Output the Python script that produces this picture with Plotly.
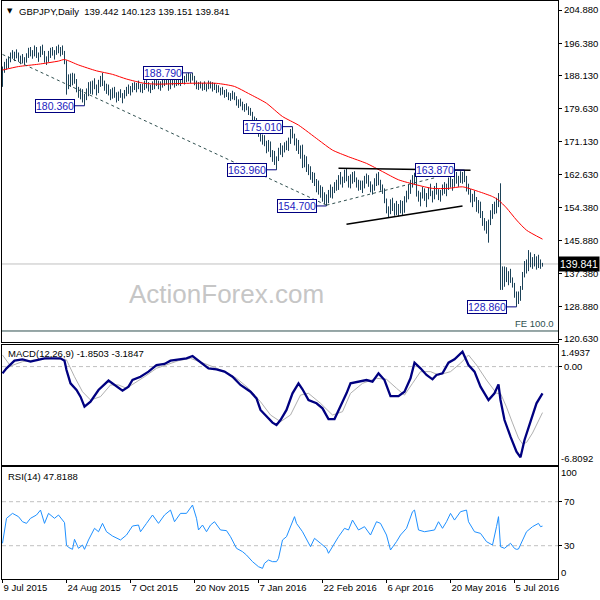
import plotly.graph_objects as go

# ---------------- DATA ----------------
bar_open = [
186.0,189.6,191.0,190.2,192.6,193.4,193.0,193.8,193.2,192.2,
192.6,191.8,192.4,193.4,194.6,193.6,194.2,195.0,193.2,193.6,
195.2,194.0,192.0,192.6,193.8,194.4,193.8,194.2,195.0,194.4,
195.0,194.0,191.6,185.6,187.4,186.0,188.2,186.6,184.4,183.0,
184.2,181.8,182.8,184.2,185.8,184.0,186.2,185.0,184.2,186.4,
187.0,186.0,184.8,185.4,183.6,182.4,184.4,183.0,181.8,183.4,
182.8,183.2,183.8,184.6,184.0,185.0,185.6,184.8,185.8,185.2,
184.6,185.6,186.2,185.4,184.6,185.4,186.0,186.8,186.2,185.2,
186.2,186.8,187.8,186.4,185.0,187.6,186.2,186.4,187.0,186.0,
187.4,187.0,187.6,188.0,187.2,188.2,187.4,186.0,185.2,185.8,
185.0,185.6,184.8,185.4,186.0,185.0,185.6,184.8,185.2,184.2,
184.4,183.6,183.8,183.0,182.4,183.0,182.6,182.2,180.8,181.4,
180.6,179.8,180.2,179.4,178.6,178.4,176.8,177.0,174.4,173.0,
172.0,172.6,170.6,169.4,171.0,168.0,168.6,166.2,166.8,169.2,
168.4,169.6,170.4,169.8,171.8,173.8,172.6,170.8,171.4,168.6,
169.8,165.0,167.2,164.0,164.8,162.0,162.8,160.4,161.0,158.4,
159.4,156.4,157.6,155.6,158.2,157.4,159.2,160.2,159.2,162.0,
161.2,161.8,163.4,161.6,160.2,162.2,162.8,161.2,160.0,160.8,
159.4,160.6,161.8,162.0,160.2,158.8,159.6,161.2,162.4,160.6,
159.2,158.4,155.8,153.4,154.0,155.8,154.0,154.8,153.2,154.6,
155.6,153.0,156.8,157.8,159.6,160.8,161.8,162.8,157.6,156.4,
157.6,158.8,156.6,157.4,158.6,157.8,157.2,159.2,158.2,156.8,
158.4,159.6,158.4,160.0,161.2,160.0,161.0,162.6,161.0,162.0,
163.0,161.2,162.0,159.0,158.2,156.2,157.2,156.4,153.8,155.4,
152.4,150.2,149.2,148.4,150.6,152.8,154.6,153.6,156.2,157.6,
139.0,135.2,137.6,136.2,136.8,135.4,134.6,131.8,131.6,132.2,
133.6,137.2,139.8,138.4,142.6,140.2,141.2,139.8,141.4,139.4,
139.442]

bar_high = [
190.4,191.6,192.4,193.0,194.0,194.6,194.2,194.8,194.0,193.2,
193.6,192.8,193.8,195.2,195.4,194.6,195.8,195.4,194.0,195.6,
196.0,194.4,193.0,194.4,195.2,195.4,194.6,195.6,196.0,195.4,
195.8,194.4,192.0,188.4,188.6,188.8,188.6,187.2,185.2,184.8,
184.6,183.4,184.8,186.4,186.6,186.8,187.4,185.8,187.0,188.0,
188.8,186.8,186.0,185.8,184.6,185.0,185.2,183.8,184.0,184.6,
183.6,184.4,185.2,185.8,185.4,186.2,186.4,186.2,186.8,186.0,
186.0,186.8,187.0,186.4,185.8,186.6,187.2,187.6,186.8,186.6,
187.4,188.2,188.0,187.0,188.2,188.4,187.2,187.6,187.4,187.8,
188.4,188.0,188.6,188.8,188.6,188.79,188.0,186.8,186.4,186.6,
186.2,186.6,186.0,186.8,186.6,186.4,186.2,185.8,185.6,185.0,
185.2,184.4,184.6,183.8,183.6,184.2,183.8,182.8,182.0,182.2,
181.4,180.8,181.0,180.2,179.8,178.8,177.6,177.2,175.0,173.8,
173.0,172.8,171.4,171.6,171.2,169.0,168.8,167.4,169.6,170.8,
170.2,171.0,171.4,172.2,174.4,175.01,173.2,172.0,171.6,170.2,
170.4,167.8,167.4,165.4,164.8,163.4,163.2,161.6,161.2,160.0,
159.6,158.2,157.6,158.8,160.2,159.6,160.8,161.4,162.6,163.4,
162.2,164.0,164.4,162.4,162.8,163.4,163.6,162.0,161.4,161.2,
161.2,162.4,163.0,162.6,161.0,160.2,161.8,163.0,163.4,161.4,
160.2,159.2,156.6,154.6,156.4,156.8,155.4,156.0,155.2,156.2,
156.0,157.2,158.6,160.2,161.4,162.6,163.2,163.9,158.6,158.2,
159.6,159.2,158.0,159.4,160.4,158.6,159.8,160.6,159.0,158.8,
160.2,160.8,160.4,162.0,162.8,161.6,163.2,163.4,162.4,163.6,
163.4,163.87,162.4,160.4,159.0,157.8,158.6,157.0,156.2,155.8,
153.4,151.6,150.8,151.2,153.6,155.2,155.8,156.8,158.0,160.5,
139.2,139.2,139.0,138.0,138.6,136.4,135.0,132.8,132.8,134.2,
137.8,140.6,141.0,143.4,142.8,141.6,142.4,141.8,142.2,141.0,
140.123]

bar_low = [
185.2,188.8,189.6,190.0,191.5,192.4,191.8,192.5,191.6,191.0,
191.2,190.8,191.4,192.6,193.0,192.4,193.0,192.6,191.6,192.8,
193.4,191.4,190.8,191.6,192.6,193.2,192.2,193.4,193.8,193.0,
193.4,191.0,183.2,184.6,185.2,185.6,186.0,183.8,182.4,182.0,
181.2,180.36,181.8,182.8,183.4,183.2,184.6,183.0,183.6,185.2,
185.4,184.2,183.4,183.0,181.8,182.2,182.4,181.2,181.6,182.4,
181.0,182.2,182.8,183.4,183.0,183.8,184.4,183.8,184.6,183.8,
183.6,184.4,184.8,184.0,183.6,184.4,184.6,185.4,184.6,184.2,
185.0,185.4,185.8,184.2,184.6,185.6,185.0,185.4,185.6,185.4,
186.2,185.8,186.4,186.6,186.2,186.8,185.6,184.6,184.4,184.8,
184.2,184.4,184.0,184.6,184.8,184.0,184.4,183.6,183.8,183.0,
183.2,182.4,182.6,181.8,181.6,182.0,181.8,180.4,179.8,180.2,
179.2,178.8,179.2,178.0,177.8,176.2,175.2,173.8,172.4,171.2,
170.4,170.0,168.2,168.6,167.2,166.0,165.2,163.96,166.2,167.8,
167.2,168.4,169.0,168.8,170.6,172.0,170.2,168.8,168.0,166.8,
164.4,164.6,163.4,162.6,161.4,160.6,159.8,158.2,157.6,156.8,
155.8,155.2,154.7,155.4,156.8,156.6,158.0,158.6,158.8,160.2,
159.4,160.6,161.0,159.4,159.2,160.4,160.8,159.4,158.6,158.8,
158.0,159.2,160.4,159.6,158.2,157.6,158.6,159.8,160.0,158.6,
157.8,155.4,152.8,151.6,152.6,153.4,152.2,152.4,152.0,152.8,
152.4,153.0,155.6,156.4,157.8,159.4,160.2,157.1,155.8,154.6,
156.6,156.0,154.4,156.4,157.2,155.6,156.4,157.6,156.2,155.8,
157.4,157.8,157.2,158.8,159.4,158.6,159.6,160.4,159.6,160.6,
160.4,160.8,158.4,157.6,155.6,154.4,155.8,153.2,152.8,151.6,
149.6,148.4,147.6,145.3,149.8,151.4,152.6,152.8,154.4,133.2,
133.2,134.0,135.2,134.4,135.0,133.8,131.2,128.86,129.6,130.4,
133.2,136.4,137.4,138.0,139.0,138.6,139.2,138.4,138.8,138.6,
139.151]

bar_close = [
189.6,191.0,190.2,192.6,193.4,193.0,193.8,193.2,192.2,192.6,
191.8,192.4,193.4,194.6,193.6,194.2,195.0,193.2,193.6,195.2,
194.0,192.0,192.6,193.8,194.4,193.8,194.2,195.0,194.4,195.0,
194.0,191.6,185.6,187.4,186.0,188.2,186.6,184.4,183.0,184.2,
181.8,182.8,184.2,185.8,184.0,186.2,185.0,184.2,186.4,187.0,
186.0,184.8,185.4,183.6,182.4,184.4,183.0,181.8,183.4,182.8,
183.2,183.8,184.6,184.0,185.0,185.6,184.8,185.8,185.2,184.6,
185.6,186.2,185.4,184.6,185.4,186.0,186.8,186.2,185.2,186.2,
186.8,187.8,186.4,185.0,187.6,186.2,186.4,187.0,186.0,187.4,
187.0,187.6,188.0,187.2,188.2,187.4,186.0,185.2,185.8,185.0,
185.6,184.8,185.4,186.0,185.0,185.6,184.8,185.2,184.2,184.4,
183.6,183.8,183.0,182.4,183.0,182.6,182.2,180.8,181.4,180.6,
179.8,180.2,179.4,178.6,178.4,176.8,177.0,174.4,173.0,172.0,
172.6,170.6,169.4,171.0,168.0,168.6,166.2,166.8,169.2,168.4,
169.6,170.4,169.8,171.8,173.8,172.6,170.8,171.4,168.6,169.8,
165.0,167.2,164.0,164.8,162.0,162.8,160.4,161.0,158.4,159.4,
156.4,157.6,155.6,158.2,157.4,159.2,160.2,159.2,162.0,161.2,
161.8,163.4,161.6,160.2,162.2,162.8,161.2,160.0,160.8,159.4,
160.6,161.8,162.0,160.2,158.8,159.6,161.2,162.4,160.6,159.2,
158.4,155.8,153.4,154.0,155.8,154.0,154.8,153.2,154.6,155.6,
153.0,156.8,157.8,159.6,160.8,161.8,162.8,157.6,156.4,157.6,
158.8,156.6,157.4,158.6,157.8,157.2,159.2,158.2,156.8,158.4,
159.6,158.4,160.0,161.2,160.0,161.0,162.6,161.0,162.0,163.0,
161.2,162.0,159.0,158.2,156.2,157.2,156.4,153.8,155.4,152.4,
150.2,149.2,148.4,150.6,152.8,154.6,153.6,156.2,157.6,139.0,
135.2,137.6,136.2,136.8,135.4,134.6,131.8,131.6,132.2,133.6,
137.2,139.8,138.4,142.6,140.2,141.2,139.8,141.4,139.4,140.4,
139.841]

# moving average (red), sampled along the curve
ma_idx = [0, 8, 18, 28, 31, 38, 47, 55, 62, 71, 78, 92, 107, 116, 123, 132,
          140, 148, 158, 165, 173, 182, 190, 198, 207, 215, 223, 230, 238,
          245, 248, 252, 257, 262, 270]
ma_val = [189.5, 190.4, 191.0, 191.8, 192.2, 190.8, 189.3, 188.4, 187.2, 186.1,
          185.9, 186.1, 186.1, 185.3, 183.5, 181.0, 177.6, 175.4, 171.6, 169.0,
          167.3, 165.6, 163.5, 161.4, 160.1, 159.2, 159.2, 159.6, 158.4, 157.1,
          156.2, 154.2, 151.1, 148.5, 146.2]

# MACD(12,26,9)
macd_idx = [0, 2, 6, 10, 14, 18, 21, 25, 29, 31, 32, 34, 37, 39, 41, 44, 48, 53,
            56, 60, 63, 65, 69, 73, 77, 81, 84, 88, 92, 95, 98, 103, 107, 111,
            115, 119, 124, 127, 129, 132, 135, 137, 139, 142, 145, 148, 150,
            153, 157, 160, 163, 166, 169, 172, 174, 178, 182, 185, 188, 191,
            194, 198, 201, 204, 206, 209, 212, 215, 217, 220, 223, 226, 228,
            230, 233, 236, 239, 243, 246, 248, 249, 251, 254, 257, 259, 261,
            264, 267, 270]
macd_main = [-0.47, -0.12, 0.41, 0.50, 0.34, 0.50, 0.57, 0.57, 0.57, 0.41,
             -0.24, -1.16, -1.62, -2.08, -2.77, -2.43, -1.62, -0.97, -1.27,
             -1.67, -1.39, -0.93, -0.70, -0.35, 0.11, 0.18, 0.41, 0.50, 0.57,
             0.73, 0.41, -0.12, -0.19, -0.35, -0.70, -1.27, -1.74, -2.20,
             -3.00, -3.47, -3.88, -4.04, -3.70, -3.00, -1.85, -1.16, -1.57,
             -2.31, -2.54, -2.89, -3.63, -3.63, -2.77, -1.85, -1.16, -1.04,
             -0.93, -1.04, -0.47, -0.93, -2.04, -2.04, -1.74, -0.81, 0.27,
             -0.12, -0.58, -0.88, -0.58, -0.47, 0.27, 0.50, 0.80, 1.03, 0.11,
             -0.35, -1.39, -2.31, -1.85, -1.23, -2.31, -3.70, -4.85, -5.89,
             -6.28, -5.08, -3.81, -2.54, -1.8503]
sig_idx = [0, 4, 10, 18, 25, 32, 36, 40, 44, 49, 54, 58, 62, 66, 71, 77, 83,
           88, 94, 100, 106, 111, 117, 123, 129, 134, 139, 144, 149, 153, 159,
           165, 170, 174, 180, 187, 192, 197, 201, 205, 209, 214, 218, 224,
           229, 233, 237, 242, 247, 249, 252, 255, 258, 260, 262, 265, 268, 270]
sig_val = [0.80, 0.04, 0.34, 0.50, 0.57, 0.46, -0.70, -1.74, -2.31, -2.08,
           -1.27, -1.27, -1.50, -1.16, -0.70, -0.12, 0.18, 0.41, 0.57, 0.27,
           -0.05, -0.35, -0.81, -1.50, -2.43, -3.35, -3.81, -3.35, -1.97,
           -1.85, -2.54, -3.35, -3.12, -1.85, -1.16, -0.81, -0.88, -1.50,
           -1.97, -1.16, -0.35, -0.35, -0.58, -0.35, 0.23, 0.80, 0.11, -0.93,
           -1.85, -1.85, -2.80, -3.90, -4.95, -5.35, -5.25, -4.60, -3.80,
           -3.1847]

# RSI(14)
rsi_idx = [0, 1, 2, 5, 8, 10, 12, 14, 17, 19, 21, 23, 26, 28, 31, 32, 33, 35,
           36, 38, 40, 41, 43, 46, 48, 50, 52, 55, 59, 62, 65, 68, 69, 72, 75,
           78, 81, 84, 86, 89, 92, 95, 97, 98, 100, 102, 104, 106, 109, 112,
           114, 117, 120, 122, 125, 128, 130, 131, 133, 135, 137, 138, 140,
           142, 144, 146, 147, 150, 154, 156, 159, 162, 163, 165, 168, 171,
           173, 175, 178, 181, 184, 187, 189, 192, 194, 197, 199, 202, 205,
           206, 208, 211, 216, 218, 220, 222, 224, 226, 229, 232, 233, 236,
           239, 242, 245, 247, 248, 249, 251, 254, 256, 257, 258, 262, 265,
           268, 269, 270]
rsi_val = [32.2, 44.3, 54.9, 59.4, 56.4, 51.8, 50.3, 54.9, 57.9, 62.4, 50.3,
           59.4, 54.9, 57.9, 51.0, 30.5, 28.5, 26.7, 35.8, 27.6, 30.6, 26.7,
           35.2, 45.8, 42.7, 50.3, 42.7, 38.8, 35.2, 39.7, 47.9, 48.8, 42.7,
           50.3, 57.9, 50.3, 57.9, 62.4, 51.8, 59.4, 59.4, 67.0, 54.9, 44.3,
           48.8, 42.7, 48.8, 51.8, 44.3, 43.7, 38.2, 27.6, 24.6, 21.5, 15.5,
           10.9, 9.4, 14.0, 17.0, 15.5, 15.5, 18.5, 35.2, 38.2, 47.3, 56.4,
           50.3, 42.7, 29.1, 36.7, 32.2, 27.6, 23.1, 29.1, 38.2, 45.8, 44.3,
           53.3, 44.3, 47.3, 39.7, 51.8, 50.3, 39.7, 26.1, 33.7, 39.7, 45.8,
           60.9, 62.4, 44.3, 42.7, 44.3, 51.8, 45.8, 51.8, 59.4, 53.3, 60.9,
           62.4, 51.8, 42.7, 41.2, 33.7, 30.6, 47.3, 56.4, 29.1, 27.6, 32.2,
           27.5, 26.7, 27.0, 42.7, 47.3, 50.3, 47.3, 47.8188]

# axis ticks
price_ticks = [204.880, 196.380, 188.130, 179.630, 171.130, 162.630, 154.380,
               145.880, 137.380, 128.880, 120.630]
date_tick_idx = [0, 32, 64, 96, 128, 160, 192, 224, 256]
date_tick_labels = ["9 Jul 2015", "24 Aug 2015", "7 Oct 2015", "20 Nov 2015",
                    "7 Jan 2016", "22 Feb 2016", "6 Apr 2016", "20 May 2016",
                    "5 Jul 2016"]
macd_range = [-6.8092, 1.4937]
rsi_levels = [70, 30]

# swing labels: (bar index, price)
swing_bar = [41, 95, 145, 137, 162, 231, 257]
swing_val = [180.360, 188.790, 175.010, 163.960, 154.700, 163.870, 128.860]

# drawn analysis lines: (idx0, price0, idx1, price1)
dashed_lines = [(0, 193.5, 162, 154.9), (162, 154.9, 216, 161.9)]
solid_lines = [(168, 164.35, 234, 163.85), (172, 150.0, 230, 154.7)]
fe_level = 122.68
last_price = 139.841
title_vals = "139.442 140.123 139.151 139.841"
macd_last = "-1.8503 -3.1847"
rsi_last = "47.8188"

# ---------------- LAYOUT ----------------
W, H = 600, 600
ML, MR, MT, MB = 2, 42, 1, 21
PW, PH = W - ML - MR, H - MT - MB


def px_x(p):
    return (p - ML) / PW


def px_y(p):
    return (H - MB - p) / PH


# price scale: 204.88 at pixel 10, 120.63 at pixel 339
s_main = (339 - 10) / (204.88 - 120.63)
main_range = [120.63 - (342 - 339) / s_main, 204.88 + (10 - 1) / s_main]
# rsi scale: 70 at pixel 501.7, 30 at 545.7
s_rsi = (545.7 - 501.7) / 40
rsi_range = [30 - (579 - 545.7) / s_rsi, 70 + (501.7 - 467) / s_rsi]

FONT = "Liberation Sans, Arial, sans-serif"
FS = 9.5
BAR_C = "#1c4258"
NAVY = "#000080"

n = len(bar_close)
xs = list(range(n))

fig = go.Figure()
fig.add_trace(go.Ohlc(
    x=xs, open=bar_open, high=bar_high, low=bar_low, close=bar_close,
    increasing=dict(line=dict(color=BAR_C, width=1)),
    decreasing=dict(line=dict(color=BAR_C, width=1)),
    tickwidth=0.25, xaxis="x", yaxis="y", hoverinfo="skip", showlegend=False))
fig.add_trace(go.Scatter(x=ma_idx, y=ma_val, mode="lines",
                         line=dict(color="#ff0000", width=1, shape="spline", smoothing=0.6),
                         xaxis="x", yaxis="y", hoverinfo="skip", showlegend=False))
fig.add_trace(go.Scatter(x=sig_idx, y=sig_val, mode="lines",
                         line=dict(color="#b0b0b0", width=1),
                         xaxis="x2", yaxis="y2", hoverinfo="skip", showlegend=False))
fig.add_trace(go.Scatter(x=macd_idx, y=macd_main, mode="lines",
                         line=dict(color=NAVY, width=2.3),
                         xaxis="x2", yaxis="y2", hoverinfo="skip", showlegend=False))
fig.add_trace(go.Scatter(x=rsi_idx, y=rsi_val, mode="lines",
                         line=dict(color="#1e90ff", width=1),
                         xaxis="x3", yaxis="y3", hoverinfo="skip", showlegend=False))

shapes = []
shapes.append(dict(type="line", xref="paper", yref="y", x0=0, x1=1,
                   y0=last_price, y1=last_price, layer="below",
                   line=dict(color="#c0c0c0", width=1)))
shapes.append(dict(type="line", xref="paper", yref="y", x0=0, x1=1,
                   y0=fe_level, y1=fe_level, layer="below",
                   line=dict(color="#2f4f4f", width=1)))
for (a0, p0, a1, p1) in dashed_lines:
    shapes.append(dict(type="line", xref="x", yref="y", x0=a0, y0=p0, x1=a1, y1=p1,
                       line=dict(color="#2f4f4f", width=1, dash="3px,3px")))
for (a0, p0, a1, p1) in solid_lines:
    shapes.append(dict(type="line", xref="x", yref="y", x0=a0, y0=p0, x1=a1, y1=p1,
                       line=dict(color="#000000", width=1.5)))
shapes.append(dict(type="line", xref="paper", yref="y2", x0=0, x1=1, y0=0, y1=0,
                   line=dict(color="#c0c0c0", width=1, dash="4px,3px"), layer="below"))
for lv in rsi_levels:
    shapes.append(dict(type="line", xref="paper", yref="y3", x0=0, x1=1, y0=lv, y1=lv,
                       line=dict(color="#c0c0c0", width=1, dash="4px,3px"), layer="below"))

GAP = 4.8  # bars between label box and bar
annotations = []
for b, v in zip(swing_bar, swing_val):
    shapes.append(dict(type="line", xref="x", yref="y", x0=b - GAP, x1=b, y0=v, y1=v,
                       line=dict(color=NAVY, width=1)))
    annotations.append(dict(x=b - GAP, y=v, xref="x", yref="y", xanchor="right",
                            yanchor="middle", text=f"{v:.3f}", showarrow=False,
                            font=dict(family=FONT, size=10.5, color="#1c22c0"),
                            bgcolor="white", bordercolor=NAVY, borderwidth=1,
                            borderpad=0))

annotations.append(dict(x=px_x(5), y=px_y(11), xref="paper", yref="paper",
                        xanchor="left", yanchor="middle", text="▼", showarrow=False,
                        font=dict(family="DejaVu Sans", size=7, color="black")))
annotations.append(dict(x=px_x(17), y=px_y(11), xref="paper", yref="paper",
                        xanchor="left", yanchor="middle",
                        text="GBPJPY,Daily  " + title_vals, showarrow=False,
                        font=dict(family=FONT, size=FS, color="black")))
annotations.append(dict(x=px_x(6), y=px_y(354), xref="paper", yref="paper",
                        xanchor="left", yanchor="middle",
                        text="MACD(12,26,9) " + macd_last, showarrow=False,
                        font=dict(family=FONT, size=FS, color="black")))
annotations.append(dict(x=px_x(6), y=px_y(476), xref="paper", yref="paper",
                        xanchor="left", yanchor="middle",
                        text="RSI(14) " + rsi_last, showarrow=False,
                        font=dict(family=FONT, size=FS, color="black")))
annotations.append(dict(x=px_x(226), y=px_y(294), xref="paper", yref="paper",
                        xanchor="center", yanchor="middle", text="ActionForex.com",
                        showarrow=False,
                        font=dict(family=FONT, size=26, color="#c6c6c6")))
annotations.append(dict(x=px_x(556), y=fe_level, xref="paper", yref="y",
                        xanchor="right", yanchor="bottom", text="FE 100.0",
                        showarrow=False,
                        font=dict(family=FONT, size=FS, color="#2f4f4f")))
annotations.append(dict(x=1, y=last_price, xref="paper", yref="y", xanchor="left",
                        yanchor="middle", text=f"{last_price:.3f}", showarrow=False,
                        bgcolor="black", borderpad=1,
                        font=dict(family=FONT, size=10.5, color="white")))
for val, ref, sh in [(macd_range[1], "y2", -7), (macd_range[0], "y2", 7),
                     (100, "y3", -4), (0, "y3", 6)]:
    txt = f"{val:.4f}" if ref == "y2" else f"{val:d}"
    annotations.append(dict(x=1, y=val, xref="paper", yref=ref, xanchor="left",
                            yanchor="middle", yshift=sh, xshift=1, text=txt,
                            showarrow=False,
                            font=dict(family=FONT, size=FS, color="black")))

axis_common = dict(showline=True, mirror=True, linecolor="black", linewidth=1,
                   showgrid=False, zeroline=False)
tickfont = dict(family=FONT, size=FS, color="black")

fig.update_layout(
    width=W, height=H, margin=dict(l=ML, r=MR, t=MT, b=MB),
    paper_bgcolor="white", plot_bgcolor="white", showlegend=False,
    xaxis=dict(domain=[0, 1], anchor="y", range=[-0.25, 277.75], ticks="",
               showticklabels=False, rangeslider=dict(visible=False), **axis_common),
    xaxis2=dict(domain=[0, 1], anchor="y2", matches="x", ticks="",
                showticklabels=False, **axis_common),
    xaxis3=dict(domain=[0, 1], anchor="y3", matches="x", tickmode="array",
                tickvals=date_tick_idx, ticktext=date_tick_labels, ticks="outside",
                ticklen=3, tickcolor="black", ticklabelposition="outside right",
                tickfont=tickfont, **axis_common),
    yaxis=dict(domain=[px_y(342), px_y(1)], anchor="x", side="right",
               range=main_range, tickmode="array", tickvals=price_ticks,
               ticktext=[f"{v:.3f}" for v in price_ticks], ticks="outside",
               ticklen=3, tickcolor="black", tickfont=tickfont, **axis_common),
    yaxis2=dict(domain=[px_y(465), px_y(345)], anchor="x2", side="right",
                range=macd_range, tickmode="array", tickvals=[0], ticktext=["0.00"],
                ticks="outside", ticklen=3, tickcolor="black", tickfont=tickfont,
                **axis_common),
    yaxis3=dict(domain=[0, px_y(467)], anchor="x3", side="right",
                range=rsi_range, tickmode="array", tickvals=rsi_levels,
                ticktext=[str(v) for v in rsi_levels], ticks="outside", ticklen=3,
                tickcolor="black", tickfont=tickfont, **axis_common),
    shapes=shapes, annotations=annotations,
)

fig.write_html("out.html",
               config={"displayModeBar": False},
               post_script="document.body.style.margin='0px';"
                           "document.body.style.padding='0px';")
